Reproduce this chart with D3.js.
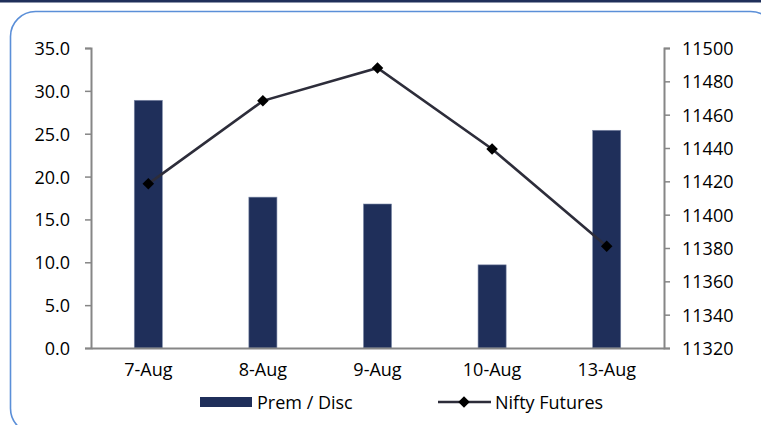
<!DOCTYPE html>
<html>
<head>
<meta charset="utf-8">
<script src="https://cdn.jsdelivr.net/npm/d3@7"></script>
<style>
  html, body { margin: 0; padding: 0; background: #ffffff; }
  svg { display: block; }
  text { font-family: "Open Sans", "DejaVu Sans", sans-serif; fill: #000; }
</style>
</head>
<body>
<svg id="chart" width="761" height="425"></svg>
<script>
// Daily premium/discount and Nifty futures close
const categories = ["7-Aug", "8-Aug", "9-Aug", "10-Aug", "13-Aug"];
const premDisc = [28.9, 17.6, 16.8, 9.7, 25.4];
const niftyFutures = [11418.5, 11468.3, 11488, 11439.4, 11381];
const leftTicks = [0, 5, 10, 15, 20, 25, 30, 35];
const rightTicks = [11320, 11340, 11360, 11380, 11400, 11420, 11440, 11460, 11480, 11500];

const svg = d3.select("#chart");
const W = 761, H = 425;
const plot = { left: 91, right: 664, top: 48, bottom: 348 };
const fontSize = 18;

// top strip and rounded frame
svg.append("rect").attr("x", 0).attr("y", 0).attr("width", W).attr("height", 2.5).attr("fill", "#1f2f5a");
svg.append("rect")
  .attr("x", 10.5).attr("y", 11.5).attr("width", 765).attr("height", 422)
  .attr("rx", 25).attr("ry", 25)
  .attr("fill", "none").attr("stroke", "#5b8fd8").attr("stroke-width", 1.6);

const x = d3.scaleBand().domain(categories).range([plot.left, plot.right]).paddingInner(0).paddingOuter(0);
const yL = d3.scaleLinear().domain([0, 35]).range([plot.bottom, plot.top]);
const yR = d3.scaleLinear().domain([11320, 11500]).range([plot.bottom, plot.top]);

const axisColor = "#868686";

// bars
const barW = x.bandwidth() * 0.245;
svg.append("g").selectAll("rect").data(categories).join("rect")
  .attr("x", (d) => x(d) + x.bandwidth() / 2 - barW / 2)
  .attr("y", (d, i) => yL(premDisc[i]))
  .attr("width", barW)
  .attr("height", (d, i) => yL(0) - yL(premDisc[i]))
  .attr("fill", "#1f2f5a")
  .attr("stroke", "#7d8aa8").attr("stroke-width", 0.6);

// left axis
const gL = svg.append("g").attr("transform", `translate(${plot.left},0)`)
  .call(d3.axisLeft(yL).tickValues(leftTicks).tickFormat(d3.format(".1f")).tickSize(6).tickPadding(15));
// right axis
const gR = svg.append("g").attr("transform", `translate(${plot.right},0)`)
  .call(d3.axisRight(yR).tickValues(rightTicks).tickFormat(d3.format("d")).tickSize(6).tickPadding(12));
// category axis
const gB = svg.append("g").attr("transform", `translate(0,${plot.bottom})`)
  .call(d3.axisBottom(x).tickSize(0).tickPadding(19));

[gL, gR, gB].forEach((g) => {
  g.select(".domain").attr("stroke", axisColor).attr("stroke-width", 2);
  g.selectAll(".tick line").attr("stroke", axisColor).attr("stroke-width", 1.5);
  g.selectAll("text").attr("font-size", fontSize).attr("fill", "#000")
    .attr("font-family", '"Open Sans", "DejaVu Sans", sans-serif');
});
gL.selectAll("text").attr("dy", "0.36em");
gR.selectAll("text").attr("dy", "0.36em");
gB.selectAll("text").attr("dy", "0.5em");

// Nifty futures line with diamond markers
const pts = categories.map((c, i) => [x(c) + x.bandwidth() / 2, yR(niftyFutures[i])]);
svg.append("path").attr("d", d3.line()(pts))
  .attr("fill", "none").attr("stroke", "#2d2d3a").attr("stroke-width", 2.6);
const diamond = d3.symbol().type(d3.symbolDiamond2).size(85);
svg.append("g").selectAll("path").data(pts).join("path")
  .attr("transform", (p) => `translate(${p[0]},${p[1]})`)
  .attr("d", diamond)
  .attr("fill", "#000");

// legend
const lg = svg.append("g");
lg.append("rect").attr("x", 200).attr("y", 397).attr("width", 52).attr("height", 10).attr("fill", "#1f2f5a");
lg.append("text").attr("x", 257).attr("y", 408.5).attr("font-size", fontSize).text("Prem / Disc");
lg.append("line").attr("x1", 438).attr("x2", 491).attr("y1", 402).attr("y2", 402)
  .attr("stroke", "#2d2d3a").attr("stroke-width", 2.6);
lg.append("path").attr("transform", "translate(464,402)").attr("d", diamond).attr("fill", "#000");
lg.append("text").attr("x", 495).attr("y", 408.5).attr("font-size", fontSize).text("Nifty Futures");
</script>
</body>
</html>
